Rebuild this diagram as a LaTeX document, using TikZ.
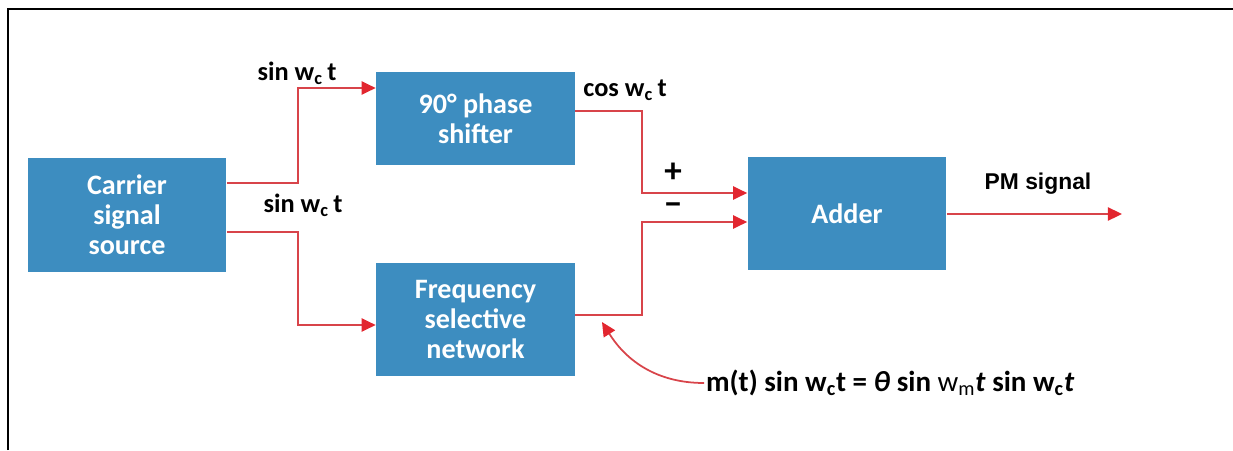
\documentclass[tikz,border=0pt]{standalone}
\usepackage{fontspec}
\setmainfont{Carlito}
\newfontfamily\arialfont{Liberation Sans}
\usepackage{tikz}
\usetikzlibrary{positioning, arrows.meta, calc}

\definecolor{boxblue}{HTML}{3D8DC0}
\definecolor{sigred}{HTML}{D8444A}
\definecolor{tipred}{HTML}{E2262F}

\begin{document}
\begin{tikzpicture}[x=0.02cm, y=-0.02cm,
    block/.style={fill=boxblue, text=white, align=center, inner sep=0pt,
        minimum width=3.98cm, font=\fontsize{16}{17}\selectfont\bfseries},
    sig/.style={draw=sigred, line width=1pt},
    sigarrow/.style={sig, -{Triangle[length=8pt, width=7.5pt, color=tipred]}},
    lbl/.style={font=\fontsize{15}{16}\selectfont\bfseries, inner sep=1pt}]

    \useasboundingbox (0, 0) rectangle (1233, 450);
    \draw[line width=1.6pt] (8, 450) -- (8, 9) -- (1233, 9);

    % blocks
    \node[block, minimum height=2.28cm] (carrier) at (127, 215) {Carrier\\signal\\source};
    \node[block, minimum height=1.86cm] (shifter) at (475.5, 118.5) {90° phase\\shifter};
    \node[block, minimum height=2.26cm] (fsn) at (475.5, 319.5) {Frequency\\selective\\network};
    \node[block, minimum height=2.26cm] (adder) at (847, 213.5) {Adder};

    % bend points
    \coordinate (up) at (298, 183);
    \coordinate (down) at (298, 232);
    \coordinate (plus) at (642, 193);
    \coordinate (minus) at (642, 222);
    \coordinate (out) at (1122, 214);
    \coordinate (fb) at (602, 322);

    % carrier to both branches
    \draw[sigarrow] (carrier.east |- up) -- (up) |- (shifter.west |- 0, 88);
    \draw[sigarrow] (carrier.east |- down) -- (down) |- (fsn.west |- 0, 325);

    % branches to adder
    \draw[sigarrow] (shifter.east |- 0, 111) -| (plus) -- (adder.west |- plus);
    \draw[sigarrow] (fsn.east |- 0, 315) -| (minus) -- (adder.west |- minus);
    \draw[sigarrow] (adder.east |- out) -- (out);

    % labels
    \node[lbl] (s1) at (297, 73) {sin w\textsubscript{c}\,t};
    \node[lbl] (s2) at (303, 205) {sin w\textsubscript{c}\,t};
    \node[lbl] (c1) at (625, 90) {cos w\textsubscript{c}\,t};
    \node[lbl, font=\fontsize{20}{20}\selectfont\bfseries] (p) at (673, 173) {+};
    \node[lbl, font=\fontsize{20}{20}\selectfont\bfseries] (m) at (673, 209) {−};
    \node[font=\arialfont\fontsize{13}{15}\selectfont\bfseries] (pm) at (1038, 184) {PM signal};

    % modulating input
    \node[lbl, anchor=west, font=\fontsize{16.5}{18}\selectfont\bfseries] (eqn) at (704, 383)
        {m(t) sin w\textsubscript{c}t = \textit{θ} sin {\mdseries w\textsubscript{m}}\textit{t} sin w\textsubscript{c}\textit{t}};
    \draw[sigarrow] (eqn.west) to[out=180, in=-58] (fb);
\end{tikzpicture}
\end{document}
